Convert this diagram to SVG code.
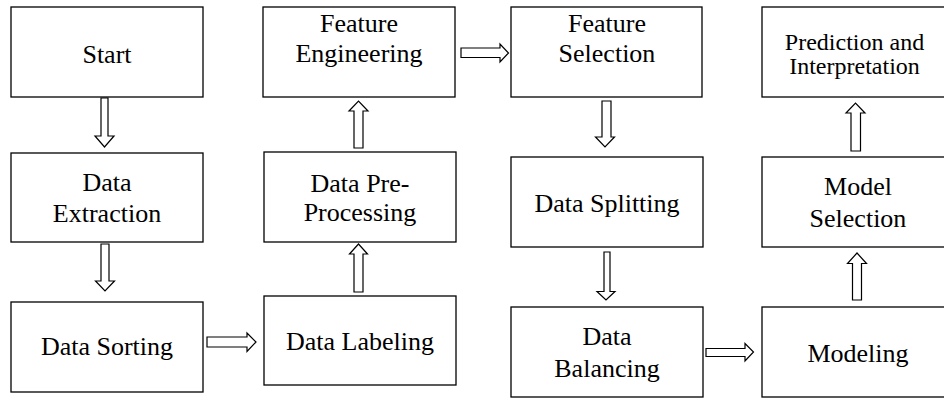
<svg xmlns="http://www.w3.org/2000/svg" width="944" height="399" viewBox="0 0 944 399">
<style>
.box{fill:#fff;stroke:#000;stroke-width:1.3}
.arr{fill:#fff;stroke:#000;stroke-width:1.2;stroke-linejoin:miter}
text{font-family:'Liberation Serif','Times New Roman',serif;font-size:26px;fill:#000;text-anchor:middle}
.sm{font-size:24px}
</style>
<rect width="944" height="399" fill="#fff"/>
<g id="n-start"><rect class="box" x="11" y="7" width="192" height="90"/><text x="107" y="62.5">Start</text></g>
<g id="n-extraction"><rect class="box" x="11" y="153" width="192" height="89"/><text x="107" y="191">Data</text><text x="107" y="221.5">Extraction</text></g>
<g id="n-sorting"><rect class="box" x="11" y="302" width="192" height="90"/><text x="107" y="355">Data Sorting</text></g>
<g id="n-labeling"><rect class="box" x="264" y="296" width="192" height="89"/><text x="360" y="350">Data Labeling</text></g>
<g id="n-preprocessing"><rect class="box" x="264" y="152" width="192" height="90"/><text x="360" y="191.5">Data Pre-</text><text x="360" y="221">Processing</text></g>
<g id="n-engineering"><rect class="box" x="263" y="7" width="192" height="90"/><text x="359" y="32">Feature</text><text x="359" y="62">Engineering</text></g>
<g id="n-selection"><rect class="box" x="511" y="7" width="191" height="90"/><text x="607" y="32">Feature</text><text x="607" y="62">Selection</text></g>
<g id="n-splitting"><rect class="box" x="511" y="157" width="192" height="90"/><text x="607" y="211.5">Data Splitting</text></g>
<g id="n-balancing"><rect class="box" x="511" y="307" width="192" height="90"/><text x="607" y="345">Data</text><text x="607" y="376.5">Balancing</text></g>
<g id="n-modeling"><rect class="box" x="762" y="307" width="192" height="90"/><text x="858" y="361.5">Modeling</text></g>
<g id="n-modelselection"><rect class="box" x="762" y="157" width="192" height="90"/><text x="858" y="195">Model</text><text x="858" y="226.5">Selection</text></g>
<g id="n-prediction"><rect class="box" x="762" y="7" width="192" height="90"/><text class="sm" x="854.5" y="49.5">Prediction and</text><text class="sm" x="854.5" y="74">Interpretation</text></g>
<g id="connectors">
<polygon class="arr" points="101,98 108,98 108,136 114,136 104.5,147 95,136 101,136"/>
<polygon class="arr" points="101,244 109,244 109,281 114.5,281 105,291 95.5,281 101,281"/>
<polygon class="arr" points="207,337 247,337 247,333 256,342 247,351.5 247,347 207,347"/>
<polygon class="arr" points="354,292 363,292 363,254 367.5,254 358.5,244 349.5,254 354,254"/>
<polygon class="arr" points="354,148 363,148 363,111 368,111 358.5,101 349,111 354,111"/>
<polygon class="arr" points="461,48 500,48 500,44 508.5,53 500,62 500,57.5 461,57.5"/>
<polygon class="arr" points="602,101 611,101 611,137 614.5,137 605,147 595.5,137 602,137"/>
<polygon class="arr" points="604,252 610,252 610,291.5 615,291.5 606,300 597,291.5 604,291.5"/>
<polygon class="arr" points="706,348.5 745,348.5 745,343.5 753.5,352 745,361 745,356.5 706,356.5"/>
<polygon class="arr" points="852.5,300 861.5,300 861.5,263.5 866.5,263.5 857,253 847.5,263.5 852.5,263.5"/>
<polygon class="arr" points="851,151 860.5,151 860.5,113 865,113 855.5,103 846,113 851,113"/>
</g>
</svg>
